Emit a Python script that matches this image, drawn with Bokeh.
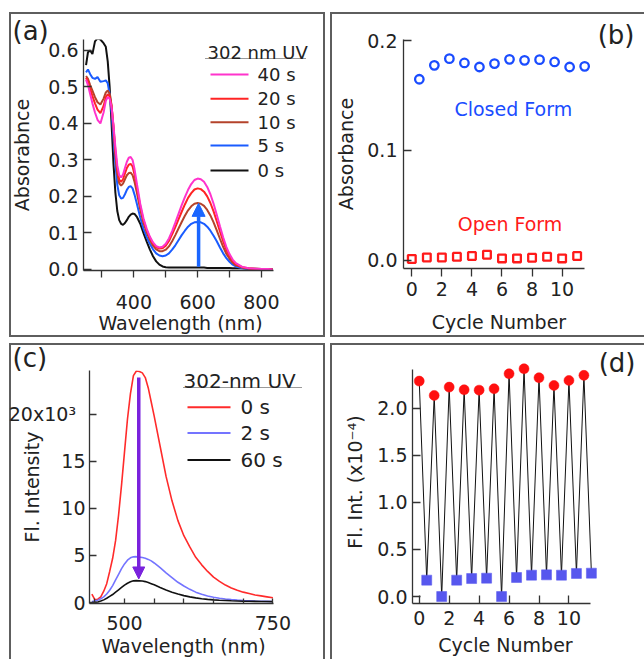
from bokeh.plotting import figure
from bokeh.models import Range1d, FixedTicker, Label, Arrow, NormalHead, PrintfTickFormatter
from bokeh.layouts import column, row
from bokeh.embed import file_html
from bokeh.resources import INLINE

FONT = "DejaVu Sans"

# ---------------- panel (a): absorption spectra ----------------
wl_a = [250, 256, 263, 270, 278, 286, 295, 305, 312, 318, 324, 330, 336, 342, 348, 354, 360,
        366, 372, 378, 384, 390, 396, 402, 410, 420, 430, 440, 450, 460, 470, 480, 490, 500,
        510, 520, 530, 540, 550, 560, 570, 580, 590, 600, 610, 620, 630, 640, 650, 660, 670,
        680, 690, 700, 710, 720, 740, 760, 780, 800, 820, 835]
abs_0s = [0.560, 0.595, 0.600, 0.590, 0.625, 0.633, 0.630, 0.620, 0.610, 0.570, 0.500, 0.400,
          0.290, 0.210, 0.160, 0.135, 0.125, 0.122, 0.127, 0.135, 0.144, 0.150, 0.153, 0.152,
          0.143, 0.125, 0.100, 0.077, 0.055, 0.036, 0.022, 0.013, 0.008, 0.006, 0.005, 0.005,
          0.005, 0.005, 0.005, 0.005, 0.005, 0.005, 0.005, 0.005, 0.005, 0.005, 0.004, 0.004,
          0.004, 0.004, 0.004, 0.004, 0.004, 0.004, 0.003, 0.003, 0.003, 0.002, 0.002, 0.001,
          0.001, 0.001]
abs_5s = [0.540, 0.548, 0.535, 0.525, 0.522, 0.527, 0.514, 0.516, 0.518, 0.510, 0.480, 0.430,
          0.360, 0.290, 0.232, 0.203, 0.194, 0.196, 0.206, 0.218, 0.226, 0.228, 0.222, 0.205,
          0.178, 0.142, 0.112, 0.089, 0.070, 0.055, 0.044, 0.038, 0.036, 0.038, 0.044, 0.054,
          0.066, 0.080, 0.094, 0.106, 0.117, 0.125, 0.129, 0.130, 0.129, 0.125, 0.117, 0.106,
          0.092, 0.077, 0.060, 0.044, 0.031, 0.021, 0.013, 0.008, 0.003, 0.001, 0.001, 0.000,
          0.000, 0.000]
abs_10s = [0.530, 0.522, 0.505, 0.490, 0.472, 0.458, 0.452, 0.468, 0.485, 0.490, 0.482, 0.450,
           0.388, 0.315, 0.262, 0.236, 0.230, 0.235, 0.247, 0.258, 0.264, 0.265, 0.258, 0.240,
           0.208, 0.164, 0.128, 0.102, 0.081, 0.065, 0.055, 0.050, 0.050, 0.054, 0.063, 0.077,
           0.094, 0.112, 0.130, 0.147, 0.162, 0.173, 0.180, 0.182, 0.180, 0.174, 0.163, 0.148,
           0.129, 0.107, 0.084, 0.062, 0.043, 0.029, 0.018, 0.011, 0.005, 0.002, 0.001, 0.001,
           0.000, 0.000]
abs_20s = [0.525, 0.515, 0.495, 0.475, 0.455, 0.438, 0.428, 0.448, 0.472, 0.480, 0.474, 0.448,
           0.392, 0.325, 0.272, 0.246, 0.240, 0.247, 0.263, 0.278, 0.287, 0.289, 0.282, 0.260,
           0.222, 0.173, 0.135, 0.108, 0.087, 0.071, 0.061, 0.057, 0.058, 0.065, 0.078, 0.096,
           0.116, 0.137, 0.158, 0.178, 0.196, 0.209, 0.219, 0.222, 0.220, 0.213, 0.200, 0.182,
           0.159, 0.132, 0.104, 0.077, 0.054, 0.036, 0.023, 0.014, 0.006, 0.003, 0.002, 0.001,
           0.001, 0.000]
abs_40s = [0.520, 0.505, 0.480, 0.455, 0.430, 0.410, 0.400, 0.430, 0.462, 0.472, 0.468, 0.445,
           0.395, 0.335, 0.285, 0.258, 0.252, 0.260, 0.278, 0.295, 0.306, 0.308, 0.300, 0.275,
           0.232, 0.180, 0.140, 0.112, 0.090, 0.074, 0.064, 0.060, 0.062, 0.070, 0.085, 0.105,
           0.128, 0.152, 0.176, 0.198, 0.218, 0.234, 0.245, 0.249, 0.247, 0.240, 0.226, 0.206,
           0.180, 0.150, 0.118, 0.088, 0.062, 0.042, 0.027, 0.017, 0.007, 0.003, 0.002, 0.001,
           0.001, 0.000]
series_a = [("0 s", abs_0s, "#111111"), ("5 s", abs_5s, "#1a5cff"), ("10 s", abs_10s, "#b4432b"),
            ("20 s", abs_20s, "#ff2424"), ("40 s", abs_40s, "#ff33cc")]
legend_a_order = ["40 s", "20 s", "10 s", "5 s", "0 s"]
arrow_a = (603, 0.007, 0.181)

# ---------------- panel (b): absorbance vs cycle ----------------
cycle_open = [0, 1, 2, 3, 4, 5, 6, 7, 8, 9, 10, 11]
abs_open = [0.0010, 0.0024, 0.0024, 0.0030, 0.0037, 0.0049, 0.0015, 0.0015, 0.0021, 0.0030,
            0.0015, 0.0037]
cycle_closed = [0.5, 1.5, 2.5, 3.5, 4.5, 5.5, 6.5, 7.5, 8.5, 9.5, 10.5, 11.5]
abs_closed = [0.165, 0.1777, 0.1838, 0.1799, 0.1762, 0.1793, 0.1832, 0.1823, 0.1829, 0.1808,
              0.1762, 0.1768]

# ---------------- panel (c): fluorescence spectra ----------------
wl_c = [445, 450, 455, 460, 465, 470, 475, 480, 485, 490, 495, 500, 505, 510, 515, 520, 525,
        530, 535, 540, 545, 550, 560, 570, 580, 590, 600, 610, 620, 630, 640, 650, 660, 670,
        680, 690, 700, 710, 720, 730, 740, 750]
fl_0s = [900, 300, 350, 600, 1200, 2000, 3300, 4700, 6600, 9300, 12500, 16000, 19500, 22200,
         24100, 24600, 24550, 24400, 23900, 22800, 21300, 19800, 16600, 13400, 10800, 8700, 7100,
         5900, 4800, 4000, 3300, 2700, 2250, 1850, 1550, 1300, 1100, 950, 800, 700, 600, 500]
fl_2s = [100, 150, 250, 400, 600, 900, 1300, 1800, 2400, 3000, 3600, 4100, 4500, 4750, 4850,
         4870, 4820, 4780, 4700, 4580, 4420, 4200, 3700, 3150, 2650, 2150, 1750, 1400, 1100, 880,
         700, 560, 450, 370, 310, 260, 220, 190, 160, 140, 120, 100]
fl_60s = [0, 20, 60, 150, 280, 450, 650, 850, 1100, 1350, 1600, 1850, 2050, 2200, 2300, 2320,
          2300, 2280, 2220, 2120, 2000, 1880, 1600, 1330, 1100, 900, 730, 600, 490, 400, 330, 280,
          240, 210, 180, 160, 140, 130, 120, 110, 100, 90]
series_c = [("0 s", fl_0s, "#ff2b2b"), ("2 s", fl_2s, "#7474ff"), ("60 s", fl_60s, "#111111")]
arrow_c = (524, 23900, 2500)
yticks_c = [0, 5000, 10000, 15000, 20000]
ylabels_c = {0: "0", 5000: "5", 10000: "10", 15000: "15", 20000: "20x10\u00b3\u2002"}

# ---------------- panel (d): fluorescence vs cycle ----------------
cycle_on = [0, 1, 2, 3, 4, 5, 6, 7, 8, 9, 10, 11]
fl_on = [2.287, 2.135, 2.223, 2.195, 2.191, 2.206, 2.365, 2.418, 2.323, 2.241, 2.294, 2.348]
cycle_off = [0.5, 1.5, 2.5, 3.5, 4.5, 5.5, 6.5, 7.5, 8.5, 9.5, 10.5, 11.5]
fl_off = [0.174, 0.0, 0.174, 0.191, 0.195, 0.0, 0.202, 0.227, 0.230, 0.227, 0.245, 0.248]

BC = "#5e5e5e"   # panel frame colour
UL = "#9a9a9a"   # legend title underline
PAD = "\u2002" * 4   # shifts a frame-centred axis label to the centre of the drawn axis


def box_css(rects):
    imgs, sizes, poss = [], [], []
    for (x, y, w, h, c) in rects:
        imgs.append(f"linear-gradient({c}, {c})")
        sizes.append(f"{w}px {h}px")
        poss.append(f"{x}px {y}px")
    return {"background-image": ", ".join(imgs), "background-size": ", ".join(sizes),
            "background-position": ", ".join(poss), "background-repeat": "no-repeat"}


def make_fig(w, h, xr, yr, ml, mr, mt, mb, rects):
    p = figure(width=w, height=h, x_range=Range1d(*xr), y_range=Range1d(*yr),
               toolbar_location=None, output_backend="svg",
               min_border_left=ml, min_border_right=mr, min_border_top=mt, min_border_bottom=mb)
    p.background_fill_color = None
    p.border_fill_color = None
    p.outline_line_color = None
    p.xgrid.grid_line_color = None
    p.ygrid.grid_line_color = None
    p.styles = box_css(rects)
    try:
        p.frame_align = False
    except Exception:
        pass
    return p


def cfg_axis(ax, ticks, minor, tin, tout, standoff, label, lstand, bounds="auto"):
    ax.ticker = FixedTicker(ticks=ticks, minor_ticks=minor)
    ax.bounds = bounds
    ax.major_tick_in = tin
    ax.major_tick_out = tout
    ax.minor_tick_in = tin
    ax.minor_tick_out = tout
    ax.axis_line_color = "#333333"
    ax.axis_line_width = 1.3
    ax.major_tick_line_color = "#333333"
    ax.major_tick_line_width = 1.3
    ax.minor_tick_line_color = "#333333"
    ax.minor_tick_line_width = 1.3
    ax.major_label_standoff = standoff
    ax.major_label_text_font = FONT
    ax.major_label_text_font_size = "19px"
    ax.major_label_text_color = "#222222"
    ax.axis_label = label
    try:
        ax.axis_label_standoff = lstand
    except Exception:
        ax.axis_label_standoff = 0
    ax.axis_label_text_font = FONT
    ax.axis_label_text_font_size = "19px"
    ax.axis_label_text_font_style = "normal"
    ax.axis_label_text_color = "#222222"


def panel_title(p, text, align, offset, standoff):
    t = p.title
    t.text = text
    t.align = align
    t.vertical_align = "bottom"
    t.offset = offset
    try:
        t.standoff = standoff
    except Exception:
        t.standoff = 0
    t.text_font = FONT
    t.text_font_size = "26px"
    t.text_font_style = "normal"
    t.text_color = "#222222"


def add_text(p, fl, fb, x, y, text, size="19px", color="#222222", align="left"):
    p.add_layout(Label(x=x - fl, y=fb - y, x_units="screen", y_units="screen", text=text,
                       text_font=FONT, text_font_size=size, text_color=color, text_align=align,
                       text_baseline="middle"))


def add_sample(p, fl, fb, x0, x1, y, color, width):
    p.add_layout(Arrow(start=None, end=None, x_start=x0 - fl, y_start=fb - y, x_end=x1 - fl,
                       y_end=fb - y, start_units="screen", end_units="screen",
                       line_color=color, line_width=width))


# ---------- (a) ----------  figure origin (0, 0)
pa = make_fig(326, 340, (242, 969.7), (-0.003, 0.63), 83, 11, 39, 70,
              [(9, 12, 2, 325, BC), (9, 12, 316, 2, BC), (323, 12, 2, 325, BC),
               (9, 335, 316, 2, BC), (205, 58, 101, 1, UL)])
cfg_axis(pa.xaxis[0], [400, 600, 800], [300, 500, 700], 0, 7, 17, "Wavelength (nm)" + PAD, 0,
         (242, 838))
cfg_axis(pa.yaxis[0], [0, 0.1, 0.2, 0.3, 0.4, 0.5, 0.6], [], 8, 0, 5, "Absorabnce", 12)
pa.yaxis[0].formatter = PrintfTickFormatter(format="%.1f")
colors_a = {}
for name, vals, col in series_a:
    pa.line(wl_a, vals, line_color=col, line_width=2)
    colors_a[name] = col
pa.add_layout(Arrow(end=NormalHead(size=13, fill_color="#1a66ff", line_color="#1a66ff"),
                    x_start=arrow_a[0], y_start=arrow_a[1], x_end=arrow_a[0], y_end=arrow_a[2],
                    line_color="#1a66ff", line_width=3.5))
panel_title(pa, "(a)", "left", -71, -13)
FLa, FBa = 83, 270
add_text(pa, FLa, FBa, 207, 51.5, "302 nm UV", size="18px")
for name, yy in zip(legend_a_order, [74, 98.3, 121.7, 145, 170]):
    add_sample(pa, FLa, FBa, 210, 248, yy, colors_a[name], 2)
    add_text(pa, FLa, FBa, 257, yy, name, size="18px")

# ---------- (b) ----------  figure origin (326, 0)
pb = make_fig(318, 340, (-0.553, 12.155), (-0.0077, 0.2013), 77, 50, 39, 72,
              [(4, 12, 2, 325, BC), (4, 12, 314, 2, BC), (4, 335, 314, 2, BC)])
cfg_axis(pb.xaxis[0], [0, 2, 4, 6, 8, 10], [], 0, 8, 5, "Cycle Number", 12, (-0.553, 11.49))
cfg_axis(pb.yaxis[0], [0, 0.1, 0.2], [], 8, 0, 6, "Absorbance", 7)
pb.yaxis[0].formatter = PrintfTickFormatter(format="%.1f")
pb.scatter(cycle_closed, abs_closed, marker="circle", size=8.5, fill_color=None,
           line_color="#1a4cff", line_width=2.3)
pb.scatter(cycle_open, abs_open, marker="square", size=7.7, fill_color=None,
           line_color="#ff1a1a", line_width=2.3)
panel_title(pb, "(b)", "right", -40, -21)
FLb, FBb = 403, 268
add_text(pb, FLb, FBb, 512.8, 108, "Closed Form", color="#1a4cff", align="center")
add_text(pb, FLb, FBb, 509.5, 223, "Open Form", color="#ff1a1a", align="center")

# ---------- (c) ----------  figure origin (0, 340)
pc = make_fig(326, 319, (441, 821.8), (-106, 24650), 89, 11, 30, 56,
              [(9, 3, 2, 316, BC), (9, 3, 316, 2, BC), (323, 3, 2, 316, BC),
               (183, 47, 119, 1, UL)])
cfg_axis(pc.xaxis[0], [500, 750], [450, 550, 600, 650, 700], 5, 0, 12,
         "Wavelength (nm)" + PAD, 2, (441, 751))
cfg_axis(pc.yaxis[0], yticks_c, [], 7, 0, 4, "Fl. Intensity", -37)
pc.yaxis[0].major_label_overrides = ylabels_c
colors_c = {}
for name, vals, col in series_c:
    pc.line(wl_c, vals, line_color=col, line_width=1.6)
    colors_c[name] = col
pc.add_layout(Arrow(end=NormalHead(size=12, fill_color="#7a22dd", line_color="#7a22dd"),
                    x_start=arrow_c[0], y_start=arrow_c[1], x_end=arrow_c[0], y_end=arrow_c[2],
                    line_color="#7a22dd", line_width=3.5))
panel_title(pc, "(c)", "left", -77, -5)
FLc, FBc = 89, 603
add_text(pc, FLc, FBc, 183, 380, "302-nm UV", size="20px")
for (name, vals, col), yy in zip(series_c, [406.7, 432.5, 459.5]):
    add_sample(pc, FLc, FBc, 187, 230, yy, col, 2)
    add_text(pc, FLc, FBc, 240, yy, name, size="20px")

# ---------- (d) ----------  figure origin (326, 340)
pd_ = make_fig(318, 319, (-0.45, 11.974), (-0.074, 2.5056), 86, 46, 20, 56,
               [(4, 3, 2, 316, BC), (4, 3, 314, 2, BC)])
cfg_axis(pd_.xaxis[0], [0, 2, 4, 6, 8, 10], [], 8, 0, 7, "Cycle Number", 6, (-0.45, 11.44))
cfg_axis(pd_.yaxis[0], [0, 0.5, 1.0, 1.5, 2.0], [], 8, 0, 5, "Fl. Int. (x10\u207b\u2074)", 8,
         (-0.074, 2.41))
pd_.yaxis[0].formatter = PrintfTickFormatter(format="%.1f")
zig_x, zig_y = [], []
for a, b, c, d in zip(cycle_on, fl_on, cycle_off, fl_off):
    zig_x += [a, c]
    zig_y += [b, d]
pd_.line(zig_x, zig_y, line_color="#111111", line_width=1)
pd_.scatter(cycle_off, fl_off, marker="square", size=10, fill_color="#5757ee",
            line_color="#5757ee", line_width=0.5)
pd_.scatter(cycle_on, fl_on, marker="circle", size=10, fill_color="#ff1010",
            line_color="#ff1010", line_width=0.5)
panel_title(pd_, "(d)", "right", -37, -35)

layout = column(row(pa, pb), row(pc, pd_))
open("out.html", "w").write(file_html(layout, INLINE))
